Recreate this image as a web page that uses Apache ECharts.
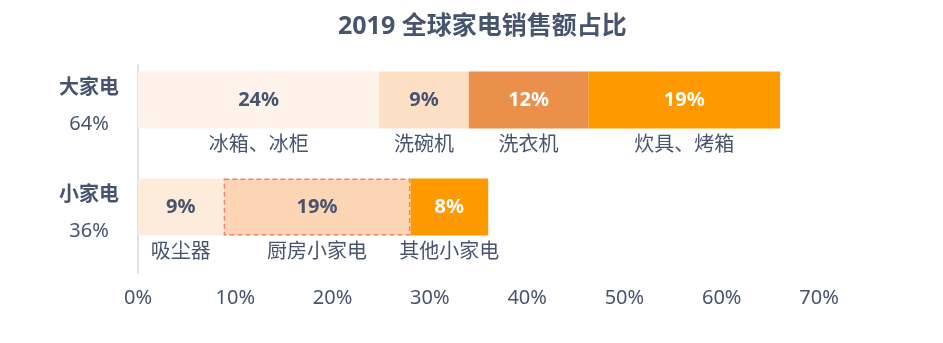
<!DOCTYPE html>
<html>
<head>
<meta charset="utf-8">
<script src="https://cdn.jsdelivr.net/npm/echarts@6/dist/echarts.min.js"></script>
<style>html,body{margin:0;padding:0;background:#fff;}#main{width:943px;height:343px;}</style>
</head>
<body>
<div id="main"></div>
<script>
var categories = ['大家电', '小家电'];
var categoryShares = ['64%', '36%'];
var bigValues = [24.8, 9.2, 12.3, 19.7];
var bigLabels = ['24%', '9%', '12%', '19%'];
var bigNames = ['冰箱、冰柜', '洗碗机', '洗衣机', '炊具、烤箱'];
var smallValues = [8.8, 19.2, 8.0];
var smallLabels = ['9%', '19%', '8%'];
var smallNames = ['吸尘器', '厨房小家电', '其他小家电'];
var xTicks = [0, 10, 20, 30, 40, 50, 60, 70];

var bigColors = ['#fef3ea', '#fcdfc5', '#ea904a', '#fe9a00'];
var smallColors = ['#fdebdc', '#fcd5b5', '#fe9a00'];
var bigWhite = [false, false, true, true];
var smallWhite = [false, false, true];

var TXT = '#46546e';
var FONT = '"Noto Sans", "Noto Sans CJK SC", sans-serif';

function item(val, lab, name, color, white, dashed) {
  var it = {
    value: val,
    itemStyle: { color: color },
    label: {
      formatter: '{s| }\n{' + (white ? 'pw' : 'p') + '|' + lab + '}\n{n|' + name + '}'
    }
  };
  if (dashed) {
    it.itemStyle.borderColor = '#ee8273';
    it.itemStyle.borderWidth = 1.5;
    it.itemStyle.borderType = [5, 3];
  }
  return it;
}

var series = [];
for (var i = 0; i < 4; i++) {
  var d = [];
  d.push(item(bigValues[i], bigLabels[i], bigNames[i], bigColors[i], bigWhite[i], false));
  if (i < smallValues.length) {
    d.push(item(smallValues[i], smallLabels[i], smallNames[i], smallColors[i], smallWhite[i], i === 1));
  } else {
    d.push('-');
  }
  series.push({
    type: 'bar',
    stack: 'total',
    barWidth: 57,
    xAxisIndex: 0,
    yAxisIndex: 0,
    data: d,
    silent: true,
    label: {
      show: true,
      position: 'inside',
      fontFamily: FONT,
      rich: {
        s: { fontSize: 1, lineHeight: 34 },
        p: { fontSize: 20, fontWeight: 'bold', color: TXT, lineHeight: 57, fontFamily: FONT },
        pw: { fontSize: 20, fontWeight: 'bold', color: '#ffffff', lineHeight: 57, fontFamily: FONT },
        n: { fontSize: 20, color: TXT, lineHeight: 34, fontFamily: FONT }
      }
    }
  });
}

var chart = echarts.init(document.getElementById('main'), null, { renderer: 'canvas' });
chart.setOption({
  animation: false,
  title: {
    text: '2019 全球家电销售额占比',
    left: 333,
    top: 9,
    textStyle: { fontSize: 25, fontWeight: 'bold', color: TXT, fontFamily: FONT }
  },
  grid: [
    { left: 138, right: 124, top: 46.5, bottom: 82.5, containLabel: false },
    { left: 138, right: 124, top: 65, bottom: 70, containLabel: false }
  ],
  xAxis: [
    {
      type: 'value', gridIndex: 0,
      min: xTicks[0], max: xTicks[xTicks.length - 1], interval: 10,
      axisLine: { show: false }, axisTick: { show: false }, splitLine: { show: false },
      axisLabel: {
        formatter: '{value}%', color: TXT, fontSize: 20, margin: 28, fontFamily: FONT
      }
    },
    { type: 'value', gridIndex: 1, show: false, min: 0, max: 70 }
  ],
  yAxis: [
    {
      type: 'category', gridIndex: 0, inverse: true, data: categories,
      axisLine: { show: false }, axisTick: { show: false },
      axisLabel: {
        margin: 49,
        align: 'center',
        padding: [13, 0, 0, 0],
        formatter: function (v, idx) {
          return '{a|' + v + '}\n{b|' + categoryShares[idx] + '}';
        },
        rich: {
          a: { fontSize: 20, fontWeight: 'bold', color: TXT, lineHeight: 36, fontFamily: FONT, align: 'center' },
          b: { fontSize: 20, color: TXT, lineHeight: 36, fontFamily: FONT, align: 'center' }
        }
      }
    },
    {
      type: 'category', gridIndex: 1, data: categories,
      axisLine: { show: true, lineStyle: { color: '#d9d9d9', width: 1.5 } },
      axisTick: { show: false }, axisLabel: { show: false }
    }
  ],
  series: series
});
</script>
</body>
</html>
